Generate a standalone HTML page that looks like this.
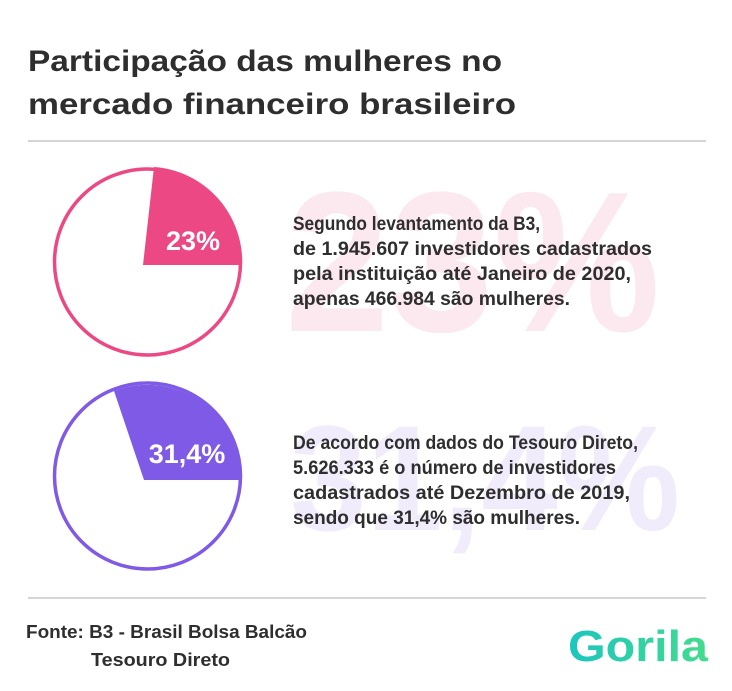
<!DOCTYPE html>
<html><head><meta charset="utf-8"><style>
html,body{margin:0;padding:0;background:#fff;}
svg{display:block;font-family:"Liberation Sans",sans-serif;}
</style></head><body>
<svg width="732" height="691" viewBox="0 0 732 691" xmlns="http://www.w3.org/2000/svg">
<rect width="732" height="691" fill="#fff"/>
<text x="28" y="71" font-size="30" font-weight="bold" fill="#2e2e2e" textLength="474" lengthAdjust="spacingAndGlyphs">Participação das mulheres no</text>
<text x="28" y="114" font-size="30" font-weight="bold" fill="#2e2e2e" textLength="488" lengthAdjust="spacingAndGlyphs">mercado financeiro brasileiro</text>
<rect x="28" y="140" width="678" height="2" fill="#d5d5d5"/>

<text x="285" y="331" font-size="200" font-weight="bold" fill="#fce8ef" textLength="375" lengthAdjust="spacingAndGlyphs">23%</text>
<text x="290" y="530" font-size="150" font-weight="bold" fill="#f0ecfb" textLength="390" lengthAdjust="spacingAndGlyphs">31,4%</text>

<circle cx="147.5" cy="262" r="93" fill="#fff" stroke="#ec4883" stroke-width="3.5"/>
<path d="M143,265 L154,167 A94,94 0 0 1 241.5,265 Z" fill="#ec4883"/>
<text x="193" y="250" font-size="27" font-weight="bold" fill="#fff" text-anchor="middle">23%</text>

<circle cx="147.5" cy="476" r="93" fill="#fff" stroke="#7f5ae6" stroke-width="3.5"/>
<path d="M144,480 L114,391 A94,94 0 0 1 241.5,480 Z" fill="#7f5ae6"/>
<text x="187" y="463" font-size="27" font-weight="bold" fill="#fff" text-anchor="middle">31,4%</text>

<g font-size="19" font-weight="bold" fill="#2e2e2e">
<text x="293" y="230" textLength="247" lengthAdjust="spacingAndGlyphs">Segundo levantamento da B3,</text>
<text x="293" y="255" textLength="359" lengthAdjust="spacingAndGlyphs">de 1.945.607 investidores cadastrados</text>
<text x="293" y="280" textLength="338" lengthAdjust="spacingAndGlyphs">pela instituição até Janeiro de 2020,</text>
<text x="293" y="305" textLength="277" lengthAdjust="spacingAndGlyphs">apenas 466.984 são mulheres.</text>
<text x="293" y="449" textLength="345" lengthAdjust="spacingAndGlyphs">De acordo com dados do Tesouro Direto,</text>
<text x="293" y="474" textLength="323" lengthAdjust="spacingAndGlyphs">5.626.333 é o número de investidores</text>
<text x="293" y="499" textLength="337" lengthAdjust="spacingAndGlyphs">cadastrados até Dezembro de 2019,</text>
<text x="293" y="524" textLength="287" lengthAdjust="spacingAndGlyphs">sendo que 31,4% são mulheres.</text>
</g>

<rect x="28" y="597" width="678" height="2" fill="#d5d5d5"/>
<g font-size="18" font-weight="bold" fill="#2e2e2e">
<text x="26" y="638" textLength="281" lengthAdjust="spacingAndGlyphs">Fonte: B3 - Brasil Bolsa Balcão</text>
<text x="91" y="666" textLength="139" lengthAdjust="spacingAndGlyphs">Tesouro Direto</text>
</g>
<defs><linearGradient id="g" x1="0" x2="1"><stop offset="0" stop-color="#1cc6be"/><stop offset="1" stop-color="#44dc8c"/></linearGradient></defs>
<text x="568" y="661" font-size="44" font-weight="bold" fill="url(#g)" textLength="140" lengthAdjust="spacingAndGlyphs">Gorila</text>
</svg>
</body></html>
